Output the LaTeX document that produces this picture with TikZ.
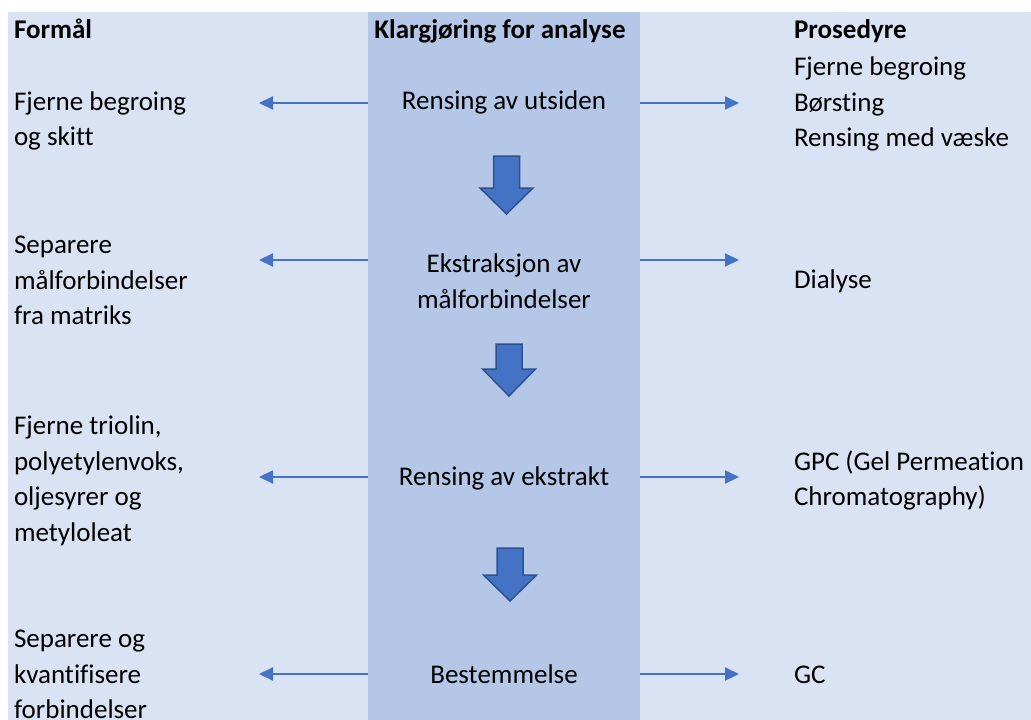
\documentclass[tikz,border=0pt]{standalone}
\usepackage{fontspec}
\setmainfont{Carlito}[Ligatures={NoCommon}]
\usetikzlibrary{arrows.meta}
\definecolor{lav}{HTML}{DAE3F3}
\definecolor{midblue}{HTML}{B4C7E7}
\definecolor{arrblue}{HTML}{4472C4}
\definecolor{arredge}{HTML}{2F528F}
\tikzset{
  txt/.style={font=\fontsize{27}{35.5}\selectfont, inner sep=0pt, outer sep=0pt, execute at begin node=\strut},
  lefttxt/.style={txt, align=left, anchor=north west},
  midtxt/.style={txt, align=center, anchor=north},
  head/.style={font=\fontsize{27}{35.5}\selectfont\bfseries},
  thinarrow/.style={draw=arrblue, line width=2pt, -{Triangle[length=14pt,width=13pt]}},
  blockarrow/.pic={
    \filldraw[fill=arrblue, draw=arredge, line width=1.5pt, line join=miter]
      (-13,0) -- (13,0) -- (13,#1) -- (26.5,#1) -- (0,\blockh) -- (-26.5,#1) -- (-13,#1) -- cycle;
  }
}
\newcommand{\blockh}{58}
\begin{document}
\begin{tikzpicture}[x=1pt,y=-1pt]
\useasboundingbox (0,0) rectangle (1031,720);
\fill[white] (0,0) rectangle (1031,720);
\fill[lav] (8,12) rectangle (1031,720);
\fill[midblue] (368,12) rectangle (640,720);

% headers
\node[lefttxt, head] (hL) at (14,14) {Formål};
\node[midtxt, head] (hM) at (500,14) {Klargjøring for analyse};
\node[lefttxt, head] (hR) at (794,14) {Prosedyre};

% left column
\node[lefttxt] (l1) at (14,91.5) {Fjerne begroing\\og skitt};
\node[lefttxt] (l2) at (14,236) {Separere\\målforbindelser\\fra matriks};
\node[lefttxt] (l3) at (14,416) {Fjerne triolin,\\polyetylenvoks,\\oljesyrer og\\metyloleat};
\node[lefttxt] (l4) at (14,630) {Separere og\\kvantifisere\\forbindelser};

% middle column
\node[midtxt] (m1) at (504,85) {Rensing av utsiden};
\node[midtxt] (m2) at (504,254) {Ekstraksjon av\\målforbindelser};
\node[midtxt] (m3) at (504,461) {Rensing av ekstrakt};
\node[midtxt] (m4) at (504,659) {Bestemmelse};

% right column
\node[lefttxt] (r1) at (794,57) {Fjerne begroing\\Børsting\\Rensing med væske};
\node[lefttxt] (r2) at (794,264) {Dialyse};
\node[lefttxt] (r3) at (794,450.5) {GPC (Gel Permeation\\Chromatography)};
\node[lefttxt] (r4) at (794,659) {GC};

% connector end points
\coordinate (a1s) at (368,103); \coordinate (a1l) at (259,103);
\coordinate (b1s) at (640,103); \coordinate (b1r) at (739,103);
\coordinate (a2s) at (368,260); \coordinate (a2l) at (259,260);
\coordinate (b2s) at (640,260); \coordinate (b2r) at (739,260);
\coordinate (a3s) at (368,477); \coordinate (a3l) at (259,477);
\coordinate (b3s) at (640,477); \coordinate (b3r) at (739,477);
\coordinate (a4s) at (368,674); \coordinate (a4l) at (259,674);
\coordinate (b4s) at (640,674); \coordinate (b4r) at (739,674);

\draw[thinarrow] (a1s) -- (a1l);
\draw[thinarrow] (b1s) -- (b1r);
\draw[thinarrow] (a2s) -- (a2l);
\draw[thinarrow] (b2s) -- (b2r);
\draw[thinarrow] (a3s) -- (a3l);
\draw[thinarrow] (b3s) -- (b3r);
\draw[thinarrow] (a4s) -- (a4l);
\draw[thinarrow] (b4s) -- (b4r);

% block arrows
\renewcommand{\blockh}{58}
\pic at (506.5,156) {blockarrow=32};
\renewcommand{\blockh}{52}
\pic at (509,344) {blockarrow=25};
\renewcommand{\blockh}{53}
\pic at (510,548) {blockarrow=27};
\end{tikzpicture}
\end{document}
